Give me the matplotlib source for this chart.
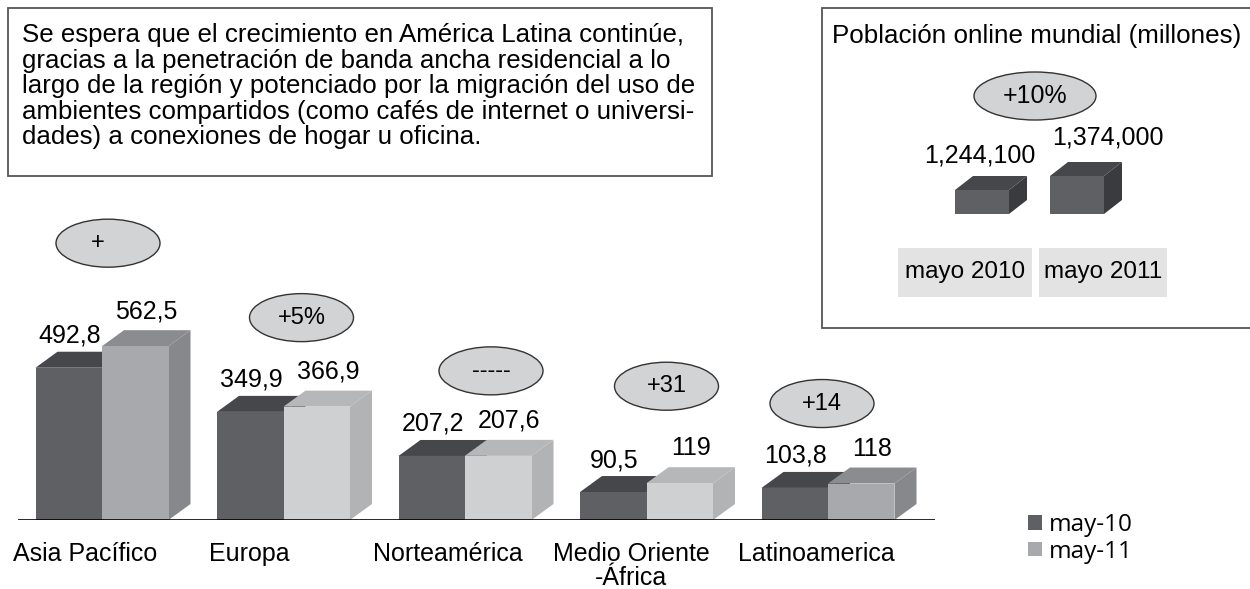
import matplotlib.pyplot as plt
from matplotlib.patches import Polygon, Rectangle, Ellipse, Patch

# regional online population (millions)
regions = ["Asia Pacífico", "Europa", "Norteamérica", "Medio Oriente\n-África", "Latinoamerica"]
may10 = [492.8, 349.9, 207.2, 90.5, 103.8]
may11 = [562.5, 366.9, 207.6, 119, 118]
growth = ["+", "+5%", "-----", "+31", "+14"]
series = ["may-10", "may-11"]

# world totals (inset)
world_labels = ["mayo 2010", "mayo 2011"]
world_values = [1244100, 1374000]
world_value_text = ["1,244,100", "1,374,000"]
world_growth = "+10%"

note = ("Se espera que el crecimiento en América Latina continúe,\n"
        "gracias a la penetración de banda ancha residencial a lo\n"
        "largo de la región y potenciado por la migración del uso de\n"
        "ambientes compartidos (como cafés de internet o universi-\n"
        "dades) a conexiones de hogar u oficina.")
inset_title = "Población online mundial (millones)"

W, H = 1250, 589
FONT = ["Liberation Sans", "DejaVu Sans"]
plt.rcParams["font.family"] = FONT

dark_front, dark_top, dark_side = "#5f6064", "#46474b", "#3a3b3e"
light_front = ["#a8a9ad", "#cfd0d2", "#cfd0d2", "#cfd0d2", "#a8a9ad"]
light_top = ["#8b8c90", "#b6b7b9", "#b6b7b9", "#b6b7b9", "#8b8c90"]
light_side = ["#87888c", "#b2b3b5", "#b2b3b5", "#b2b3b5", "#87888c"]
badge_face, badge_edge = "#d2d3d5", "#333333"


def fx(px):
    return px / W


def fy(py):
    return 1 - py / H


def box3d(ax, x0, w, h, dx, dy, front, top, side, z, base=0):
    x1 = x0 + w
    ax.add_patch(Polygon([(x1, base), (x1 + dx, base + dy), (x1 + dx, h + dy), (x1, h)],
                         closed=True, facecolor=side, edgecolor="none", zorder=z))
    ax.add_patch(Polygon([(x0, h), (x0 + dx, h + dy), (x1 + dx, h + dy), (x1, h)],
                         closed=True, facecolor=top, edgecolor="none", zorder=z))
    ax.bar(x0, h - base, width=w, bottom=base, align="edge", color=front,
           edgecolor="none", zorder=z + 0.5)


fig = plt.figure(figsize=(W / 100, H / 100), dpi=100)

# ---- frames (behind the axes) ----
fig.patches.append(Rectangle((fx(8), fy(176)), fx(712 - 8), (176 - 8) / H,
                             transform=fig.transFigure, facecolor="white",
                             edgecolor="#555555", lw=1.3, zorder=-2))
fig.patches.append(Rectangle((fx(822), fy(328)), fx(450), (328 - 8) / H,
                             transform=fig.transFigure, facecolor="white",
                             edgecolor="#555555", lw=1.3, zorder=-2))

# ---- main chart ----
left, right, base_px, top_px = 18, 935, 520, 150
ax = fig.add_axes([fx(left), fy(base_px), (right - left) / W, (base_px - top_px) / H])
xmin, xmax = (left - 102) / 181.5, (right - 102) / 181.5
ytop = (base_px - top_px) / 0.309
ax.set_xlim(xmin, xmax)
ax.set_ylim(0, ytop)
ax.axis("off")
ppx = (right - left) / (xmax - xmin)
ppy = (base_px - top_px) / ytop

bw = 66.5 / ppx
dx, dy = 22 / ppx, 16 / ppy
for i in range(len(regions)):
    box3d(ax, i - bw, bw, may10[i], dx, dy, dark_front, dark_top, dark_side, 2)
    box3d(ax, i, bw, may11[i], dx, dy, light_front[i], light_top[i], light_side[i], 4)

ax.axhline(0, color="black", lw=1.9, zorder=6)

# value labels
for i in range(len(regions)):
    ax.annotate(f"{may10[i]:g}".replace(".", ","), (i - bw / 2, may10[i]),
                xytext=(1, 32), textcoords="offset pixels", ha="center", va="center",
                fontsize=18)
    ax.annotate(f"{may11[i]:g}".replace(".", ","), (i + bw / 2, may11[i]),
                xytext=(11, 35), textcoords="offset pixels", ha="center", va="center",
                fontsize=18)

# growth badges
badge_dx = [6, 18, 26, 20, -6]
badge_gap = [103, 89, 85, 97, 80]
for i, g in enumerate(growth):
    cx = i + badge_dx[i] / ppx
    cy = max(may10[i], may11[i]) + badge_gap[i] / ppy
    ax.add_patch(Ellipse((cx, cy), 104 / ppx, 48 / ppy, facecolor=badge_face,
                         edgecolor=badge_edge, lw=1, zorder=7, clip_on=False))
    tdx = -10 if g == "+" else 0
    ax.text(cx + tdx / ppx, cy, g, ha="center", va="center", fontsize=17, zorder=8)

# category labels
label_dx = [-17, -34, -17, -15, -12]
for i, r in enumerate(regions):
    ax.annotate(r, (i, 0), xytext=(label_dx[i], -22), textcoords="offset pixels",
                ha="center", va="top", fontsize=18, multialignment="center",
                linespacing=1.0, annotation_clip=False)

# legend
handles = [Patch(facecolor=dark_front, edgecolor="none"),
           Patch(facecolor="#a8a9ad", edgecolor="none")]
fig.legend(handles, series, loc="upper left", bbox_to_anchor=(fx(1016), fy(501)),
           frameon=False, handlelength=0.55, handleheight=0.55, handletextpad=0.3,
           labelspacing=0.1, borderpad=0,
           prop={"family": ["Open Sans", "DejaVu Sans"], "size": 17.5})

# ---- note text ----
fig.text(fx(22), fy(23), note, ha="left", va="top", fontsize=18.6, linespacing=1.08)

# ---- inset ----
fig.text(fx(832), fy(24), inset_title, ha="left", va="top", fontsize=18.7)

ileft, iright, ibase, itop = 930, 1130, 214, 100
iax = fig.add_axes([fx(ileft), fy(ibase), (iright - ileft) / W, (ibase - itop) / H])
ixmin, ixmax = (ileft - 982) / 95, (iright - 982) / 95
iy0 = 1021500
iytop = iy0 + (ibase - itop) / 0.0001078
iax.set_xlim(ixmin, ixmax)
iax.set_ylim(iy0, iytop)
iax.axis("off")
ippx = (iright - ileft) / (ixmax - ixmin)
ippy = (ibase - itop) / (iytop - iy0)
iw = 54 / ippx
for i, v in enumerate(world_values):
    box3d(iax, i - iw / 2, iw, v, 18 / ippx, 14 / ippy, dark_front, dark_top, dark_side, 2, base=iy0)

value_dx = [-2, 31]
value_dy = [35, 39]
for i, v in enumerate(world_values):
    iax.annotate(world_value_text[i], (i, v), xytext=(value_dx[i], value_dy[i]),
                 textcoords="offset pixels", ha="center", va="center", fontsize=18,
                 annotation_clip=False)

fig.patches.append(Ellipse((fx(1035), fy(96)), fx(122), 48 / H, transform=fig.transFigure,
                           facecolor=badge_face, edgecolor=badge_edge, lw=1))
fig.text(fx(1035), fy(96), world_growth, ha="center", va="center", fontsize=18)

label_boxes = [(898, 1032), (1039, 1167)]
for (x0, x1), lab in zip(label_boxes, world_labels):
    fig.patches.append(Rectangle((fx(x0), fy(297)), fx(x1 - x0), 49 / H,
                                 transform=fig.transFigure, facecolor="#e3e3e4",
                                 edgecolor="none", zorder=-1))
    fig.text(fx((x0 + x1) / 2), fy(272), lab, ha="center", va="center", fontsize=17.5)

fig.savefig("out.png", dpi=100)
